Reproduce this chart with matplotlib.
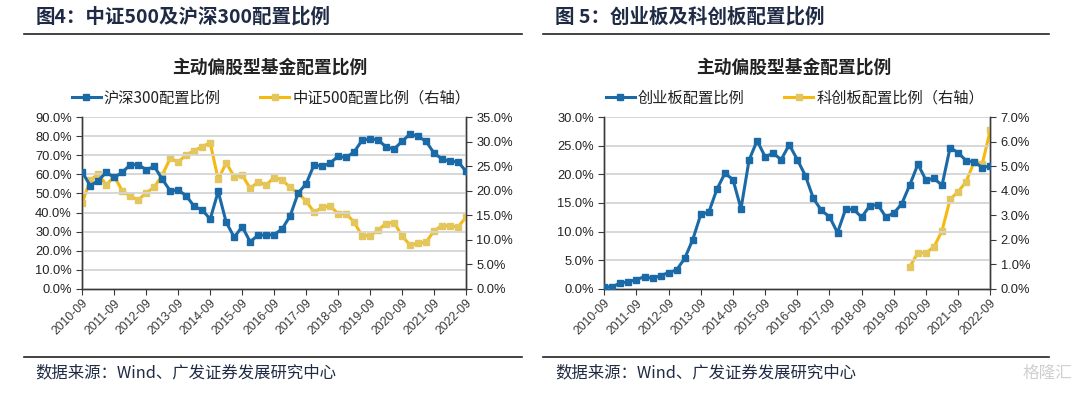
import matplotlib
matplotlib.use('Agg')
import matplotlib.pyplot as plt
from matplotlib.ticker import FuncFormatter, MultipleLocator
from matplotlib.lines import Line2D

plt.rcParams['font.family'] = ['Liberation Sans', 'Noto Sans CJK SC', 'DejaVu Sans']

# quarterly points, 2010-09 .. 2022-09
year_labels = ['2010-09', '2011-09', '2012-09', '2013-09', '2014-09', '2015-09', '2016-09',
               '2017-09', '2018-09', '2019-09', '2020-09', '2021-09', '2022-09']

# Fig 4: CSI300 share (left axis), CSI500 share (right axis), %
hs300 = [61.2, 54.0, 56.8, 61.1, 58.4, 61.1, 65.1, 65.1, 62.5, 64.2,
         57.5, 51.4, 51.8, 48.8, 43.2, 41.4, 36.5, 51.1, 34.9, 27.0,
         32.6, 24.6, 28.2, 28.1, 28.4, 31.4, 38.2, 50.2, 55.1, 65.1,
         64.2, 66.0, 69.5, 68.9, 71.8, 77.9, 78.6, 78.2, 74.4, 73.3,
         77.4, 81.2, 80.0, 77.4, 71.2, 68.1, 66.8, 66.7, 61.6]
zz500 = [17.6, 22.2, 23.4, 21.2, 22.9, 20.0, 18.9, 18.1, 19.6, 20.7,
         23.2, 26.6, 25.9, 27.3, 28.2, 29.0, 29.8, 22.3, 25.7, 22.9,
         23.2, 20.5, 21.8, 21.2, 22.7, 22.2, 20.7, 19.5, 17.9, 15.6,
         16.6, 16.9, 15.3, 15.3, 13.6, 10.8, 10.8, 12.0, 13.3, 13.5,
         10.8, 8.9, 9.3, 9.5, 11.8, 12.9, 12.8, 12.6, 14.6]

# Fig 5: ChiNext share (left axis), STAR share (right axis), %
cyb = [0.3, 0.35, 1.0, 1.2, 1.6, 2.1, 1.8, 2.3, 2.8, 3.3,
       5.3, 8.6, 13.0, 13.4, 17.4, 20.2, 19.1, 14.0, 22.5, 25.9,
       23.1, 23.7, 22.6, 25.2, 22.6, 19.8, 15.8, 13.7, 12.6, 9.8,
       13.9, 13.9, 12.5, 14.5, 14.7, 12.6, 13.2, 14.9, 18.2, 21.8,
       19.0, 19.3, 18.1, 24.7, 23.8, 22.4, 22.2, 21.2, 21.5]
kcb_start = 38
kcb = [0.90, 1.47, 1.47, 1.70, 2.37, 3.65, 3.96, 4.37, 5.19, 5.09, 6.48]

BLUE = '#1B6AA8'
GOLD = '#F5B90F'
GOLD_MK = '#E3C65E'
NAVY = '#1F2A44'
CJK = ['Noto Sans CJK SC', 'DejaVu Sans']

fig = plt.figure(figsize=(10.8, 3.94), dpi=100)


def pct(v, pos):
    return f'{v:.1f}%'


def panel(rect, left_vals, right_vals, right_x, lmax, lstep, rmax, rstep, names, title, legend_x):
    ax = fig.add_axes(rect)
    ax2 = ax.twinx()
    x = list(range(len(left_vals)))
    ax.plot(x, left_vals, color=BLUE, lw=2.2, marker='s', ms=4.2, mfc=BLUE, mec=BLUE, zorder=3)
    ax2.plot(right_x, right_vals, color=GOLD, lw=2.2, marker='s', ms=4.2, mfc=GOLD_MK, mec=GOLD_MK, zorder=3)

    ax.set_xlim(0, 48)
    ax.set_ylim(0, lmax)
    ax2.set_ylim(0, rmax)
    ax.yaxis.set_major_locator(MultipleLocator(lstep))
    ax2.yaxis.set_major_locator(MultipleLocator(rstep))
    ax.yaxis.set_major_formatter(FuncFormatter(pct))
    ax2.yaxis.set_major_formatter(FuncFormatter(pct))
    ax.set_xticks(range(0, 49, 4))
    ax.set_xticklabels(year_labels, rotation=45, ha='right', rotation_mode='anchor', fontsize=8.8, color='#222222')
    ax.grid(axis='y', color='#D4D4D4', lw=1.3)
    ax.set_axisbelow(True)
    for a in (ax, ax2):
        a.spines['top'].set_visible(False)
        for s in ('left', 'right', 'bottom'):
            a.spines[s].set_color('#3A3A3A')
            a.spines[s].set_linewidth(1.0)
        a.tick_params(axis='y', labelsize=9.3, colors='#3A3A3A', labelcolor='#222222', length=4, direction='out')
    ax.tick_params(axis='x', length=4, colors='#3A3A3A', pad=2)
    ax.set_zorder(ax2.get_zorder() + 1)
    ax.patch.set_visible(False)

    # chart title + legend
    cx = rect[0] + rect[2] / 2
    fig.text(cx - 4 / 1080, 1 - 68 / 394, title, ha='center', va='center', fontsize=12.8, fontweight='bold',
             family=CJK, color='#222222')
    handles = [Line2D([], [], color=BLUE, lw=2.2, marker='s', ms=4.2, mfc=BLUE, mec=BLUE),
               Line2D([], [], color=GOLD, lw=2.2, marker='s', ms=4.2, mfc=GOLD_MK, mec=GOLD_MK)]
    leg = fig.legend(handles, names, loc='center', bbox_to_anchor=(legend_x, 1 - 98 / 394), ncol=2,
                     frameon=False, handlelength=1.9, handletextpad=0.2, columnspacing=2.6,
                     prop={'family': CJK, 'size': 11})
    for t in leg.get_texts():
        t.set_color('#222222')
    return ax, ax2


panel([82.3 / 1080, 105.3 / 394, 383.7 / 1080, 171.4 / 394], hs300, zz500, list(range(49)),
      90, 10, 35, 5, ['沪深300配置比例', '中证500配置比例（右轴）'], '主动偏股型基金配置比例', 271 / 1080)
panel([604.3 / 1080, 105.3 / 394, 386 / 1080, 171.4 / 394], cyb, kcb,
      list(range(kcb_start, kcb_start + len(kcb))),
      30, 5, 7, 1, ['创业板配置比例', '科创板配置比例（右轴）'], '主动偏股型基金配置比例', 795 / 1080)

# headers, rules and source notes
fig.text(36 / 1080, 1 - 17 / 394, '图4：中证500及沪深300配置比例', ha='left', va='center',
         fontsize=14, fontweight='bold', family=CJK, color=NAVY)
fig.text(555 / 1080, 1 - 17 / 394, '图 5：创业板及科创板配置比例', ha='left', va='center',
         fontsize=14, fontweight='bold', family=CJK, color=NAVY)
for x0, x1 in ((24, 522), (543, 1049)):
    for yy in (33.5, 356.5):
        fig.add_artist(Line2D([x0 / 1080, x1 / 1080], [1 - yy / 394] * 2, color='#222222', lw=1.2))
fig.text(35 / 1080, 1 - 373 / 394, '数据来源：Wind、广发证券发展研究中心', ha='left', va='center',
         fontsize=11.8, family=CJK, color=NAVY)
fig.text(555 / 1080, 1 - 373 / 394, '数据来源：Wind、广发证券发展研究中心', ha='left', va='center',
         fontsize=11.8, family=CJK, color=NAVY)
fig.text(1072 / 1080, 1 - 373 / 394, '格隆汇', ha='right', va='center', fontsize=12,
         family=CJK, color='#D0D0D0')

fig.savefig('out.png', dpi=100)
